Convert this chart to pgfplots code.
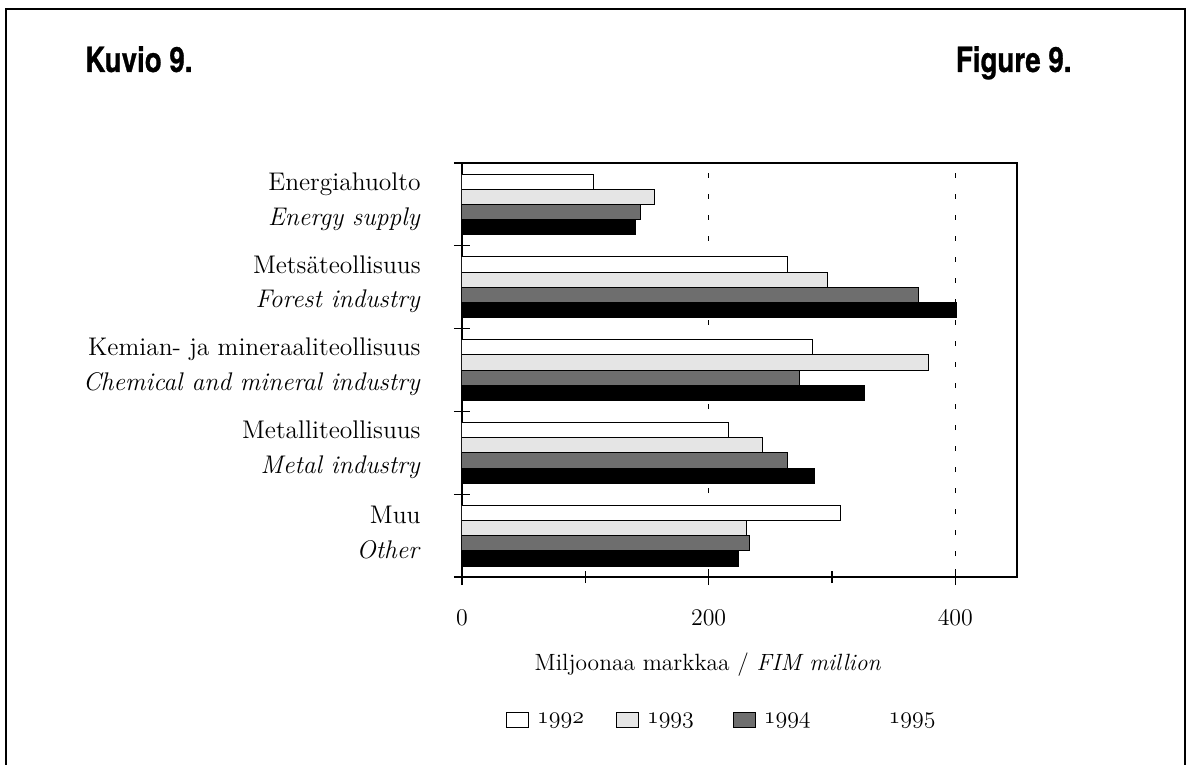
\documentclass[border=0pt]{standalone}
\usepackage{fontspec}
\newfontfamily\titlefont[FakeStretch=0.8,FakeBold=0.8]{TeX Gyre Heros}
\usepackage{pgfplots}
\pgfplotsset{compat=1.18}

\begin{document}
\begin{tikzpicture}
\begin{axis}[
  name=ax,
  at={(0,0)}, anchor=south west,
  scale only axis, width=277.5bp, height=207bp,
  xbar, bar width=7.6bp,
  xmin=0, xmax=450, ymin=0, ymax=5,
  axis line style={line width=0.7bp},
  xtick={0,200,400}, minor xtick={100,300},
  xtick pos=bottom, ytick pos=left,
  tick align=center,
  major tick length=8bp, minor tick length=6bp,
  tick style={line width=0.6bp, black},
  xmajorgrids,
  major x grid style={dash pattern=on 2.5bp off 8bp, line width=0.6bp, black},
  ticklabel style={font=\fontsize{12.5}{15}\selectfont},
  xticklabel style={yshift=-9bp},
  ytick={0.5,1.5,2.5,3.5,4.5},
  yticklabels={{Muu\\\textit{Other}},
               {Metalliteollisuus\\\textit{Metal industry}},
               {Kemian- ja mineraaliteollisuus\\\textit{Chemical and mineral industry}},
               {Metsäteollisuus\\\textit{Forest industry}},
               {Energiahuolto\\\textit{Energy supply}}},
  yticklabel style={align=right, anchor=east, inner sep=0pt, xshift=-16.5bp, yshift=1.5bp,
     font=\fontsize{12.8}{17.5}\selectfont},
  ytick style={draw=none},
  extra y ticks={0,1,2,3,4,5},
  extra y tick labels={},
  extra y tick style={ytick style={draw=black}},
  xlabel={Miljoonaa markkaa / \textit{FIM million}},
  xlabel style={at={(axis description cs:0.443,0)}, anchor=base, yshift=-46.5bp,
     font=\fontsize{11.8}{14}\selectfont},
  legend style={draw=none, inner sep=0pt, column sep=0pt, nodes={inner sep=0pt},
     at={(axis description cs:0.079,-0.345)}, anchor=west,
     font=\fontsize{13}{15}\selectfont},
  legend columns=4,
  legend image code/.code={\draw[#1] (0bp,-3.7bp) rectangle (11bp,3.7bp);},
]
\addplot[draw=black, line width=0.5bp, fill=white, bar shift=11.4bp]
  coordinates {(107,4.5) (264,3.5) (284,2.5) (216,1.5) (307,0.5)};
\addlegendentry{\hspace{4bp}$\mathnormal{1992}$\hspace{16bp}\mbox{}}
\addplot[draw=black, line width=0.5bp, fill=black!10, bar shift=3.8bp]
  coordinates {(156,4.5) (296,3.5) (378,2.5) (244,1.5) (231,0.5)};
\addlegendentry{\hspace{4bp}$\mathnormal{1993}$\hspace{19.5bp}\mbox{}}
\addplot[draw=black, line width=0.5bp, fill=black!57, bar shift=-3.8bp]
  coordinates {(145,4.5) (370,3.5) (274,2.5) (264,1.5) (233,0.5)};
\addlegendentry{\hspace{4bp}$\mathnormal{1994}$\hspace{24bp}\mbox{}}
\addplot[draw=black, line width=0.5bp, fill=black, bar shift=-11.4bp, forget plot]
  coordinates {(141,4.5) (401,3.5) (326,2.5) (286,1.5) (224,0.5)};
\addlegendimage{empty legend}
\addlegendentry{\mbox{}\hspace{15bp}$\mathnormal{1995}$}
\end{axis}
\node[anchor=base west, inner sep=0pt, font=\titlefont\bfseries\fontsize{17.4}{20}\selectfont] at (-188.5bp,252.5bp) {Kuvio 9.};
\node[anchor=base east, inner sep=0pt, font=\titlefont\bfseries\fontsize{17.4}{20}\selectfont] at (305bp,252.5bp) {Figure 9.};
\draw[line width=0.8bp] (-228bp,-100bp) -- (-228bp,284bp) -- (361.5bp,284bp) -- (361.5bp,-100bp);
\pgfresetboundingbox
\useasboundingbox (-231bp,-94bp) rectangle (365bp,288.5bp);
\end{tikzpicture}
\end{document}
